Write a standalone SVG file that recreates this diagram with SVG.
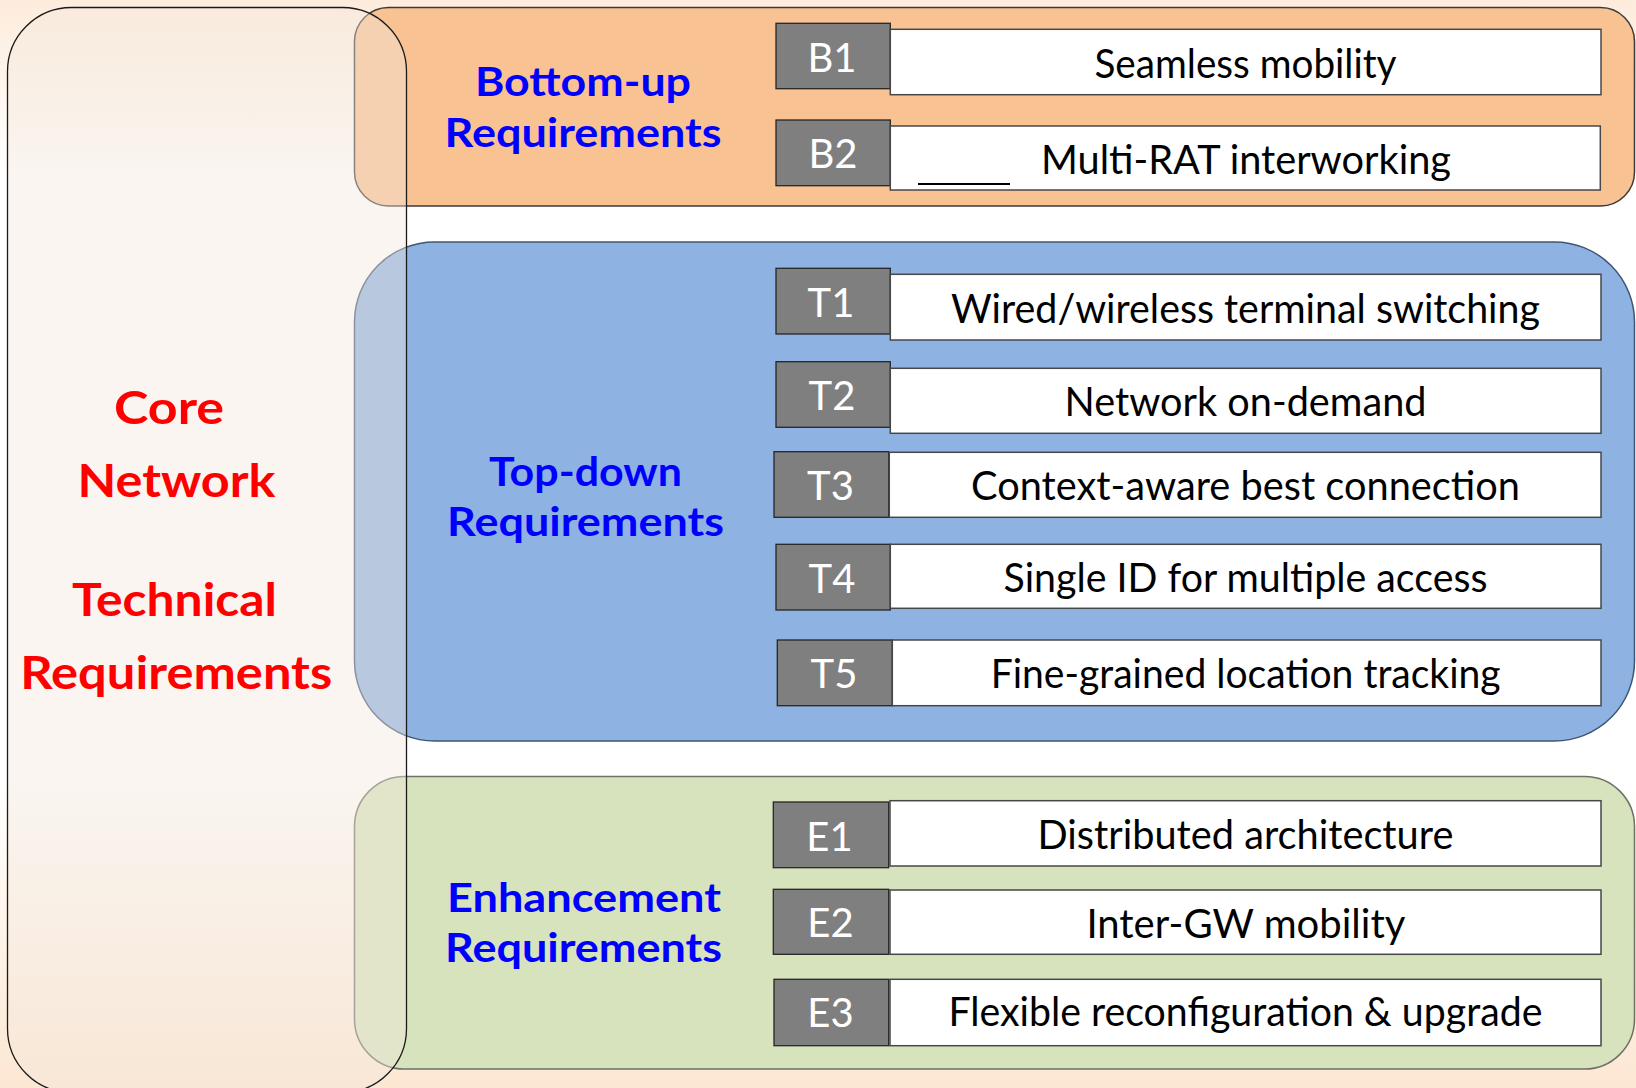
<svg xmlns="http://www.w3.org/2000/svg" width="1636" height="1088" viewBox="0 0 1636 1088">
  <defs>
    <linearGradient id="bgGrad" x1="0" y1="0" x2="0" y2="1">
      <stop offset="0" stop-color="#FDECDC"/>
      <stop offset="0.16" stop-color="#FFFFFF"/>
      <stop offset="0.72" stop-color="#FFFFFF"/>
      <stop offset="1" stop-color="#FCE7D2"/>
    </linearGradient>
    <style>
      .cat { stroke-width: 1.5; }
      .orange { fill: #F9C293; stroke: #3A3A3A; }
      .blue { fill: #8EB3E2; stroke: #3F5675; }
      .green { fill: #D7E3BD; stroke: #6E7166; }
      .panel { fill: rgb(244,230,220); fill-opacity: 0.42; stroke: #1A1A1A; stroke-width: 1.3; }
      .gbox { fill: #7F7F7F; stroke: #262626; stroke-width: 1.3; }
      .wbox { fill: #FFFFFF; stroke: #474747; stroke-width: 1.5; }
      .lbl { font-family: "Lato", "Open Sans", "Liberation Sans", sans-serif; font-size: 40px; fill: #FFFFFF; text-anchor: middle; }
      .item { font-family: "Lato", "Open Sans", "Liberation Sans", sans-serif; font-size: 40px; fill: #000000; text-anchor: middle; }
      .cattxt { font-family: "Lato", "Open Sans", "Liberation Sans", sans-serif; font-size: 41px; font-weight: bold; fill: #0000FF; text-anchor: middle; }
      .core { font-family: "Lato", "Open Sans", "Liberation Sans", sans-serif; font-size: 45px; font-weight: bold; fill: #FF0000; text-anchor: middle; }
    </style>
  </defs>

  <rect x="0" y="0" width="1636" height="1088" fill="url(#bgGrad)"/>

  <g id="bottom-up">
    <rect class="cat orange" x="354.5" y="7.5" width="1280" height="198.5" rx="34" ry="34"/>
    <text class="cattxt" x="583" y="96" textLength="216" lengthAdjust="spacingAndGlyphs">Bottom-up</text>
    <text class="cattxt" x="583" y="146.5" textLength="277" lengthAdjust="spacingAndGlyphs">Requirements</text>
  </g>

  <g id="top-down">
    <rect class="cat blue" x="354.5" y="242" width="1280" height="499" rx="80" ry="80"/>
    <text class="cattxt" x="585.5" y="485.5" textLength="193" lengthAdjust="spacingAndGlyphs">Top-down</text>
    <text class="cattxt" x="585.5" y="535.5" textLength="277" lengthAdjust="spacingAndGlyphs">Requirements</text>
  </g>

  <g id="enhancement">
    <rect class="cat green" x="354.5" y="776.5" width="1280" height="292.5" rx="50" ry="50"/>
    <text class="cattxt" x="584" y="912" textLength="274" lengthAdjust="spacingAndGlyphs">Enhancement</text>
    <text class="cattxt" x="583.5" y="962" textLength="277" lengthAdjust="spacingAndGlyphs">Requirements</text>
  </g>

  <g id="core-network">
    <rect class="panel" x="7.5" y="7.5" width="399" height="1085" rx="64" ry="64"/>
    <text class="core" x="169" y="424" textLength="110" lengthAdjust="spacingAndGlyphs">Core</text>
    <text class="core" x="176.5" y="497" textLength="198" lengthAdjust="spacingAndGlyphs">Network</text>
    <text class="core" x="174.5" y="615.5" textLength="205" lengthAdjust="spacingAndGlyphs">Technical</text>
    <text class="core" x="176.2" y="688.5" textLength="312" lengthAdjust="spacingAndGlyphs">Requirements</text>
  </g>

  <g id="B1">
    <rect class="gbox" x="776" y="23.3" width="114.3" height="65.4"/>
    <rect class="wbox" x="890.3" y="29.3" width="710.7" height="65.4"/>
    <text class="lbl" x="832" y="72">B1</text>
    <text class="item" x="1245.5" y="77.5" textLength="302" lengthAdjust="spacingAndGlyphs">Seamless mobility</text>
  </g>

  <g id="B2">
    <rect class="gbox" x="776" y="120" width="114.3" height="65.7"/>
    <rect class="wbox" x="890.3" y="126" width="710" height="64"/>
    <text class="lbl" x="833" y="168">B2</text>
    <line x1="918" y1="184" x2="1010" y2="184" stroke="#000000" stroke-width="2"/>
    <text class="item" x="1246" y="173.5" textLength="410" lengthAdjust="spacingAndGlyphs">Multi-RAT interworking</text>
  </g>

  <g id="T1">
    <rect class="gbox" x="776" y="268.3" width="114.3" height="65.7"/>
    <rect class="wbox" x="890.3" y="274.3" width="710.7" height="65.7"/>
    <text class="lbl" x="831" y="316.5">T1</text>
    <text class="item" x="1245.5" y="322.5" textLength="589" lengthAdjust="spacingAndGlyphs">Wired/wireless terminal switching</text>
  </g>

  <g id="T2">
    <rect class="gbox" x="776" y="361.7" width="114.3" height="65.6"/>
    <rect class="wbox" x="890.3" y="368.3" width="710.7" height="65"/>
    <text class="lbl" x="832" y="410">T2</text>
    <text class="item" x="1245.5" y="416.3" textLength="362" lengthAdjust="spacingAndGlyphs">Network on-demand</text>
  </g>

  <g id="T3">
    <rect class="gbox" x="774" y="451.7" width="114.7" height="65.6"/>
    <rect class="wbox" x="889.3" y="452.3" width="711.7" height="65"/>
    <text class="lbl" x="830.5" y="500">T3</text>
    <text class="item" x="1245.5" y="500" textLength="549" lengthAdjust="spacingAndGlyphs">Context-aware best connection</text>
  </g>

  <g id="T4">
    <rect class="gbox" x="776" y="544.3" width="114.3" height="65.7"/>
    <rect class="wbox" x="890.3" y="544.3" width="710.7" height="64"/>
    <text class="lbl" x="832" y="592.5">T4</text>
    <text class="item" x="1245.5" y="591.8" textLength="484" lengthAdjust="spacingAndGlyphs">Single ID for multiple access</text>
  </g>

  <g id="T5">
    <rect class="gbox" x="777.3" y="640" width="115" height="65.7"/>
    <rect class="wbox" x="892.3" y="640" width="708.7" height="65.7"/>
    <text class="lbl" x="834" y="688">T5</text>
    <text class="item" x="1245.7" y="687.5" textLength="510" lengthAdjust="spacingAndGlyphs">Fine-grained location tracking</text>
  </g>

  <g id="E1">
    <rect class="gbox" x="773.3" y="802" width="115.4" height="65.7"/>
    <rect class="wbox" x="890" y="800.7" width="711" height="65.3"/>
    <text class="lbl" x="829.5" y="850.5">E1</text>
    <text class="item" x="1245.4" y="849" textLength="416" lengthAdjust="spacingAndGlyphs">Distributed architecture</text>
  </g>

  <g id="E2">
    <rect class="gbox" x="773.3" y="889.3" width="115.4" height="65"/>
    <rect class="wbox" x="890" y="890" width="711" height="64.3"/>
    <text class="lbl" x="830.5" y="937.3">E2</text>
    <text class="item" x="1245.9" y="937.5" textLength="319" lengthAdjust="spacingAndGlyphs">Inter-GW mobility</text>
  </g>

  <g id="E3">
    <rect class="gbox" x="774" y="979.3" width="114.7" height="66.4"/>
    <rect class="wbox" x="890" y="979.3" width="711" height="66.4"/>
    <text class="lbl" x="830.5" y="1027">E3</text>
    <text class="item" x="1245.4" y="1025.5" textLength="594" lengthAdjust="spacingAndGlyphs">Flexible reconfiguration &amp; upgrade</text>
  </g>

  <g id="connectors"/>
</svg>
